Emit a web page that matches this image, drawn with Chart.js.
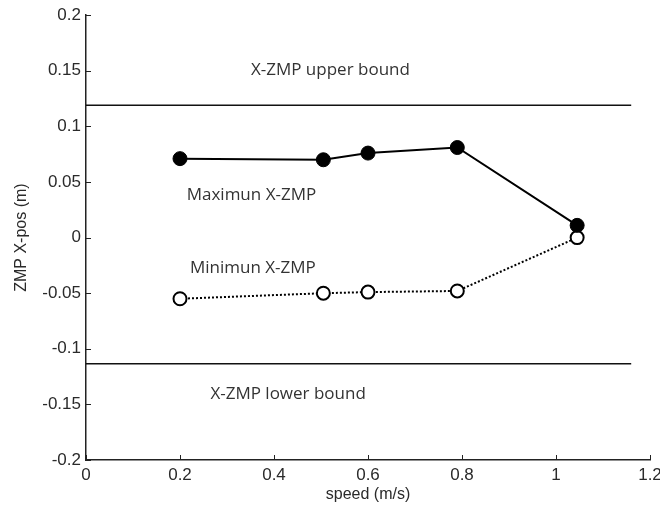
<!DOCTYPE html>
<html>
<head>
<meta charset="utf-8">
<script src="https://cdn.jsdelivr.net/npm/chart.js@4.4.1/dist/chart.umd.min.js"></script>
<style>
  html, body { margin: 0; padding: 0; background: #fff; }
  #wrap { width: 660px; height: 510px; }
</style>
</head>
<body>
<div id="wrap"><canvas id="zmpChart" width="660" height="510"></canvas></div>
<script>
// speeds (m/s) and ZMP x positions (m)
const speeds = [0.2, 0.505, 0.6, 0.79, 1.045];
const maxZmp = [0.071, 0.070, 0.076, 0.081, 0.011];
const minZmp = [-0.055, -0.050, -0.049, -0.048, 0.000];

// bound lines
const boundX = [0, 1.16];
const upperBound = [0.119, 0.119];
const lowerBound = [-0.1135, -0.1135];

// text labels placed in data coordinates
const notes = [
    { text: 'X-ZMP upper bound', x: 0.52, y: 0.1505 },
    { text: 'Maximun X-ZMP', x: 0.352, y: 0.038 },
    { text: 'Minimun X-ZMP', x: 0.355, y: -0.0275 },
    { text: 'X-ZMP lower bound', x: 0.43, y: -0.1405 }
];

const toXY = (xs, ys) => xs.map((x, i) => ({ x: x, y: ys[i] }));
const fmt = v => {
    const r = Math.round(v * 100) / 100;
    return r === 0 ? '0' : String(r);
};

// matlab style: ticks pointing inwards + free text
const matlabPlugin = {
    id: 'matlabBits',
    afterDatasetsDraw(chart) {
        const ctx = chart.ctx;
        const xs = chart.scales.x, ys = chart.scales.y;
        const area = chart.chartArea;
        ctx.save();
        ctx.strokeStyle = '#222';
        ctx.lineWidth = 1;
        xs.ticks.forEach(t => {
            const px = Math.round(xs.getPixelForValue(t.value)) + 0.5;
            ctx.beginPath();
            ctx.moveTo(px, area.bottom);
            ctx.lineTo(px, area.bottom - 5);
            ctx.stroke();
        });
        ys.ticks.forEach(t => {
            const py = Math.round(ys.getPixelForValue(t.value)) + 0.5;
            ctx.beginPath();
            ctx.moveTo(area.left, py);
            ctx.lineTo(area.left + 5, py);
            ctx.stroke();
        });

        ctx.fillStyle = '#333';
        ctx.font = "17px 'Open Sans'";
        ctx.textAlign = 'center';
        ctx.textBaseline = 'middle';
        notes.forEach(n => {
            ctx.fillText(n.text, xs.getPixelForValue(n.x), ys.getPixelForValue(n.y));
        });
        ctx.restore();
    }
};

Chart.defaults.font.family = "'Liberation Sans', Arial, sans-serif";
Chart.defaults.color = '#2a2a2a';

new Chart(document.getElementById('zmpChart'), {
    type: 'scatter',
    data: {
        datasets: [
            {
                label: 'upper bound',
                data: toXY(boundX, upperBound),
                showLine: true,
                borderColor: '#111',
                borderWidth: 1.5,
                pointRadius: 0
            },
            {
                label: 'lower bound',
                data: toXY(boundX, lowerBound),
                showLine: true,
                borderColor: '#111',
                borderWidth: 1.5,
                pointRadius: 0
            },
            {
                label: 'Maximun X-ZMP',
                data: toXY(speeds, maxZmp),
                showLine: true,
                borderColor: '#000',
                borderWidth: 2,
                pointRadius: 7,
                pointBackgroundColor: '#000',
                pointBorderColor: '#000',
                pointBorderWidth: 1
            },
            {
                label: 'Minimun X-ZMP',
                data: toXY(speeds, minZmp),
                showLine: true,
                borderColor: '#000',
                borderWidth: 2,
                borderDash: [2, 2],
                pointRadius: 6.5,
                pointBackgroundColor: '#fff',
                pointBorderColor: '#000',
                pointBorderWidth: 2
            }
        ]
    },
    options: {
        responsive: false,
        animation: false,
        layout: { padding: { top: 15, right: 0, left: 0, bottom: 0 } },
        plugins: {
            legend: { display: false },
            tooltip: { enabled: false }
        },
        scales: {
            x: {
                type: 'linear',
                min: 0,
                max: 1.2,
                grid: { display: false, drawTicks: false },
                border: { display: true, color: '#222', width: 1.5 },
                ticks: { stepSize: 0.2, padding: 5, font: { size: 17 }, callback: v => fmt(v) },
                title: { display: true, text: 'speed (m/s)', font: { size: 16 }, padding: { top: 2, bottom: 6 } },
                afterFit: s => { s.height = 50; s.paddingRight = 10; }
            },
            y: {
                type: 'linear',
                min: -0.2,
                max: 0.2,
                grid: { display: false, drawTicks: false },
                border: { display: true, color: '#222', width: 1.5 },
                ticks: { stepSize: 0.05, padding: 5, font: { size: 17 }, callback: v => fmt(v) },
                title: { display: true, text: 'ZMP X-pos (m)', font: { size: 16 }, padding: { top: 12, bottom: 0 } },
                afterFit: s => { s.width = 86; }
            }
        }
    },
    plugins: [matlabPlugin]
});
</script>
</body>
</html>
